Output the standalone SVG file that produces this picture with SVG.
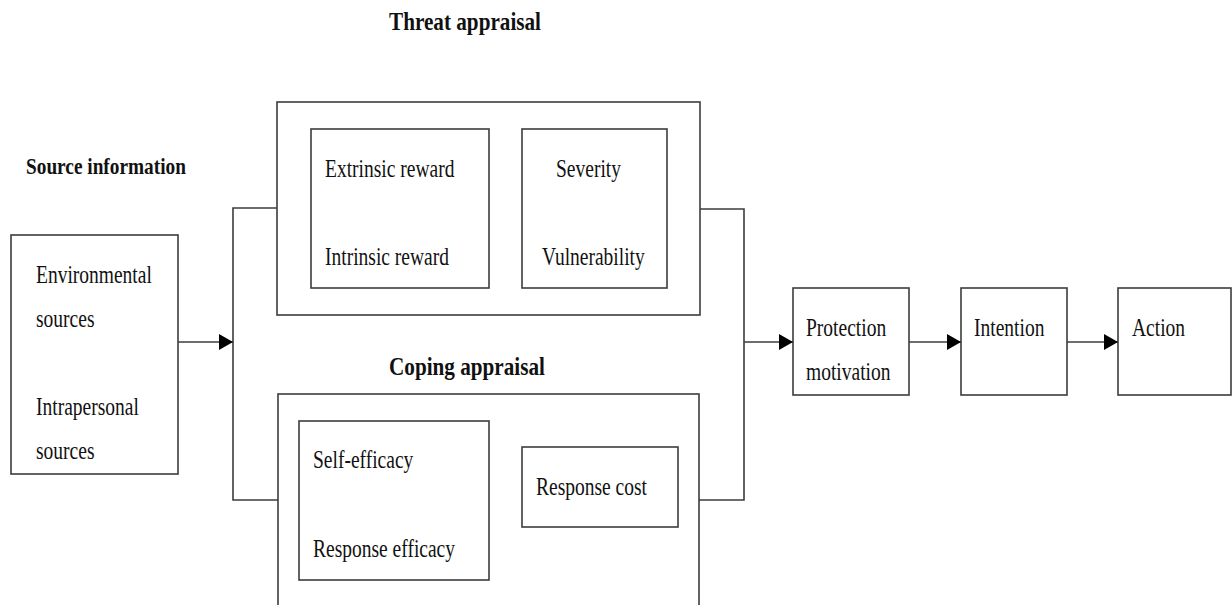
<svg xmlns="http://www.w3.org/2000/svg" width="1232" height="605" viewBox="0 0 1232 605">
<defs>
<style>
.box{fill:none;stroke:#3c3c3c;stroke-width:1.6}
.ln{fill:none;stroke:#3c3c3c;stroke-width:1.6}
.t{font-family:"Liberation Serif","Times New Roman",serif;font-size:19.5px;fill:#111}
.h{font-family:"Liberation Serif","Times New Roman",serif;font-size:21.2px;font-weight:bold;fill:#111}
</style>
<marker id="arr" markerUnits="userSpaceOnUse" markerWidth="14" markerHeight="16" refX="14" refY="8" orient="auto">
<path d="M0,0 L14,8 L0,16 z" fill="#000"/>
</marker>
</defs>
<rect width="1232" height="605" fill="#fff"/>

<g id="title-threat"><text class="h" transform="translate(389 30) scale(1 1.22)">Threat appraisal</text></g>
<g id="title-source"><text class="h" style="font-size:19.3px" transform="translate(26 174) scale(1 1.23)">Source information</text></g>
<g id="title-coping"><text class="h" transform="translate(389 375) scale(1 1.22)">Coping appraisal</text></g>

<g id="source">
<rect class="box" x="11" y="235" width="167" height="239"/>
<text class="t" transform="translate(36 283) scale(1 1.3)">Environmental</text>
<text class="t" transform="translate(36 327) scale(1 1.3)">sources</text>
<text class="t" transform="translate(36 415) scale(1 1.3)">Intrapersonal</text>
<text class="t" transform="translate(36 459) scale(1 1.3)">sources</text>
</g>

<g id="threat">
<rect class="box" x="277" y="102" width="423" height="213"/>
<g id="rewards">
<rect class="box" x="311" y="129" width="178" height="159"/>
<text class="t" transform="translate(325 177) scale(1 1.3)">Extrinsic reward</text>
<text class="t" transform="translate(325 265) scale(1 1.3)">Intrinsic reward</text>
</g>
<g id="severity">
<rect class="box" x="522" y="129" width="145" height="159"/>
<text class="t" transform="translate(556 177) scale(1 1.3)">Severity</text>
<text class="t" transform="translate(542 265) scale(1 1.3)">Vulnerability</text>
</g>
</g>

<g id="coping">
<rect class="box" x="278" y="394" width="421" height="230"/>
<g id="efficacy">
<rect class="box" x="299" y="421" width="190" height="159"/>
<text class="t" transform="translate(313 468) scale(1 1.3)">Self-efficacy</text>
<text class="t" transform="translate(313 557) scale(1 1.3)">Response efficacy</text>
</g>
<g id="cost">
<rect class="box" x="522" y="447" width="156" height="80"/>
<text class="t" transform="translate(536 495) scale(1 1.3)">Response cost</text>
</g>
</g>

<g id="protection">
<rect class="box" x="793" y="288" width="116" height="107"/>
<text class="t" transform="translate(806 336) scale(1 1.3)">Protection</text>
<text class="t" transform="translate(806 380) scale(1 1.3)">motivation</text>
</g>
<g id="intention">
<rect class="box" x="961" y="288" width="106" height="107"/>
<text class="t" transform="translate(974 336) scale(1 1.3)">Intention</text>
</g>
<g id="action">
<rect class="box" x="1118" y="288" width="113" height="107"/>
<text class="t" transform="translate(1132 336) scale(1 1.3)">Action</text>
</g>

<g id="connectors">
<path class="ln" d="M277,208 H233 V500 H278"/>
<path class="ln" d="M700,209 H744 V500 H699"/>
<line class="ln" x1="178" y1="342" x2="233" y2="342" marker-end="url(#arr)"/>
<line class="ln" x1="744" y1="342" x2="793" y2="342" marker-end="url(#arr)"/>
<line class="ln" x1="909" y1="342" x2="961" y2="342" marker-end="url(#arr)"/>
<line class="ln" x1="1067" y1="342" x2="1118" y2="342" marker-end="url(#arr)"/>
</g>
</svg>
